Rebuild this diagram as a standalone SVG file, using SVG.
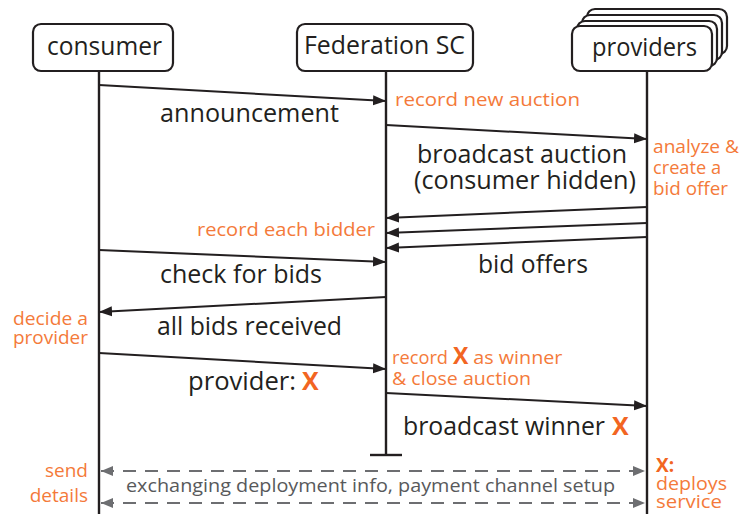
<svg xmlns="http://www.w3.org/2000/svg" width="741" height="514" viewBox="0 0 741 514">
  <style>
    .box { fill: #ffffff; stroke: #231f20; stroke-width: 2.2; }
    .life { stroke: #231f20; stroke-width: 2.4; fill: none; }
    .msg { stroke: #231f20; stroke-width: 2; fill: none; marker-end: url(#head); }
    .dash { stroke: #6d6e71; stroke-width: 2; fill: none; stroke-dasharray: 13 9; marker-start: url(#gheadL); marker-end: url(#gheadR); }
    .lbl { font-family: "Open Sans", "Noto Sans", sans-serif; font-size: 25px; fill: #231f20; }
    .note { font-family: "Open Sans", "Noto Sans", sans-serif; font-size: 19px; fill: #f47a3a; }
    .gray { font-family: "Open Sans", "Noto Sans", sans-serif; font-size: 19px; fill: #58595b; }
    .x { fill: #f26522; font-weight: bold; }
  </style>
  <defs>
    <marker id="head" markerUnits="userSpaceOnUse" markerWidth="14" markerHeight="12" refX="13" refY="6" orient="auto">
      <path d="M0,1 L13,6 L0,11 Z" fill="#231f20"/>
    </marker>
    <marker id="gheadR" markerUnits="userSpaceOnUse" markerWidth="14" markerHeight="12" refX="12" refY="6" orient="auto">
      <path d="M0,1 L12,6 L0,11 Z" fill="#6d6e71"/>
    </marker>
    <marker id="gheadL" markerUnits="userSpaceOnUse" markerWidth="14" markerHeight="12" refX="0" refY="6" orient="auto">
      <path d="M12,1 L0,6 L12,11 Z" fill="#6d6e71"/>
    </marker>
  </defs>

  <!-- participants -->
  <g id="consumer">
    <rect class="box" x="33" y="24" width="140" height="47" rx="8"/>
    <text class="lbl" x="47" y="55" textLength="115" lengthAdjust="spacingAndGlyphs">consumer</text>
    <line class="life" x1="99" y1="71" x2="99" y2="514"/>
  </g>
  <g id="federation-sc">
    <rect class="box" x="297" y="24" width="176" height="47" rx="8"/>
    <text class="lbl" x="304" y="54" textLength="161" lengthAdjust="spacingAndGlyphs">Federation SC</text>
    <line class="life" x1="386" y1="71" x2="386" y2="455"/>
    <line class="life" x1="370" y1="455" x2="402" y2="455"/>
  </g>
  <g id="providers">
    <rect class="box" x="587" y="9" width="140" height="45" rx="8"/>
    <rect class="box" x="582" y="15" width="140" height="45" rx="8"/>
    <rect class="box" x="577" y="21" width="140" height="45" rx="8"/>
    <rect class="box" x="572" y="26" width="140" height="45" rx="8"/>
    <text class="lbl" x="592" y="56" textLength="105" lengthAdjust="spacingAndGlyphs">providers</text>
    <line class="life" x1="647" y1="71" x2="647" y2="514"/>
  </g>

  <!-- messages -->
  <g id="connectors">
    <line class="msg" x1="99" y1="85" x2="386" y2="101"/>
    <line class="msg" x1="386" y1="125" x2="647" y2="139"/>
    <line class="msg" x1="647" y1="207" x2="386" y2="218"/>
    <line class="msg" x1="647" y1="223" x2="386" y2="233"/>
    <line class="msg" x1="647" y1="237" x2="386" y2="248"/>
    <line class="msg" x1="99" y1="250" x2="386" y2="262"/>
    <line class="msg" x1="386" y1="297" x2="99" y2="312"/>
    <line class="msg" x1="99" y1="353" x2="386" y2="369"/>
    <line class="msg" x1="386" y1="393" x2="647" y2="406"/>
    <line class="dash" x1="101" y1="471" x2="645" y2="471"/>
    <line class="dash" x1="101" y1="503" x2="645" y2="503"/>
  </g>

  <!-- message labels -->
  <g id="labels">
    <text class="lbl" x="160" y="122" textLength="179" lengthAdjust="spacingAndGlyphs">announcement</text>
    <text class="lbl" x="417" y="163" textLength="210" lengthAdjust="spacingAndGlyphs">broadcast auction</text>
    <text class="lbl" x="414" y="189" textLength="222" lengthAdjust="spacingAndGlyphs">(consumer hidden)</text>
    <text class="lbl" x="478" y="273" textLength="110" lengthAdjust="spacingAndGlyphs">bid offers</text>
    <text class="lbl" x="160" y="283" textLength="162" lengthAdjust="spacingAndGlyphs">check for bids</text>
    <text class="lbl" x="157" y="335" textLength="185" lengthAdjust="spacingAndGlyphs">all bids received</text>
    <text class="lbl" x="188" y="390"><tspan textLength="108" lengthAdjust="spacingAndGlyphs">provider:</tspan><tspan class="x" dx="6">X</tspan></text>
    <text class="lbl" x="403" y="435"><tspan textLength="202" lengthAdjust="spacingAndGlyphs">broadcast winner</tspan><tspan class="x" dx="7">X</tspan></text>
    <text class="gray" x="126" y="492" textLength="489" lengthAdjust="spacingAndGlyphs">exchanging deployment info, payment channel setup</text>
  </g>

  <!-- actions -->
  <g id="notes">
    <text class="note" x="395" y="106" textLength="185" lengthAdjust="spacingAndGlyphs">record new auction</text>
    <text class="note" x="653" y="153" textLength="86" lengthAdjust="spacingAndGlyphs">analyze &amp;</text>
    <text class="note" x="653" y="174" textLength="68" lengthAdjust="spacingAndGlyphs">create a</text>
    <text class="note" x="653" y="195" textLength="75" lengthAdjust="spacingAndGlyphs">bid offer</text>
    <text class="note" x="197" y="236" textLength="178" lengthAdjust="spacingAndGlyphs">record each bidder</text>
    <text class="note" x="13" y="325" textLength="75" lengthAdjust="spacingAndGlyphs">decide a</text>
    <text class="note" x="13" y="344" textLength="75" lengthAdjust="spacingAndGlyphs">provider</text>
    <text class="note" x="392" y="364"><tspan textLength="56" lengthAdjust="spacingAndGlyphs">record</tspan><tspan class="x" dx="5" font-size="23">X</tspan><tspan dx="5" textLength="89" lengthAdjust="spacingAndGlyphs">as winner</tspan></text>
    <text class="note" x="392" y="385" textLength="139" lengthAdjust="spacingAndGlyphs">&amp; close auction</text>
    <text class="note" x="88" y="477" text-anchor="end">send</text>
    <text class="note" x="88" y="502" text-anchor="end">details</text>
    <text class="note x" x="656" y="472" font-size="22">X:</text>
    <text class="note" x="656" y="490" textLength="71" lengthAdjust="spacingAndGlyphs">deploys</text>
    <text class="note" x="656" y="508" textLength="66" lengthAdjust="spacingAndGlyphs">service</text>
  </g>
</svg>
